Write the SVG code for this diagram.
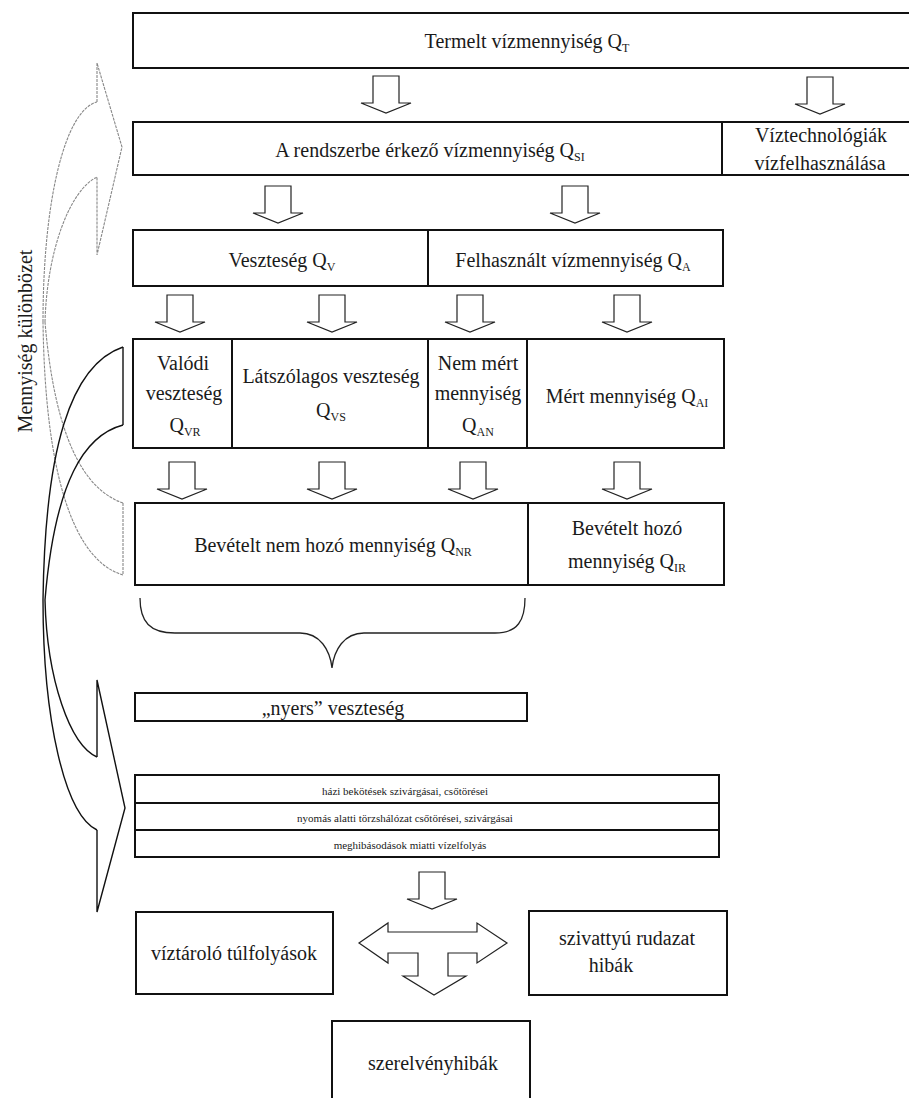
<svg xmlns="http://www.w3.org/2000/svg" xmlns:xlink="http://www.w3.org/1999/xlink" width="909" height="1098" viewBox="0 0 909 1098">
<style>
.box{fill:#fff;stroke:#111;stroke-width:2}
.div{stroke:#111;stroke-width:2;fill:none}
.t{font-family:"Liberation Serif",serif;font-size:20px;fill:#1a1a1a;text-anchor:middle}
.s{font-family:"Liberation Serif",serif;font-size:11px;fill:#1a1a1a;text-anchor:middle}
.sub{font-size:12px}
.da{fill:#fff;stroke:#222;stroke-width:1.2;stroke-linejoin:miter}
.ca{fill:none;stroke:#111;stroke-width:1.4}
.cb{fill:none;stroke:#888;stroke-width:1.1;stroke-dasharray:3 1}
</style>
<defs>
<path id="da" d="M-13,0 H13 V27 H25 L0,37 L-25,27 H-13 Z"/>
</defs>
<rect width="909" height="1098" fill="#fff"/>

<g id="connectors">
<use xlink:href="#da" href="#da" class="da" x="386" y="76"/>
<use xlink:href="#da" href="#da" class="da" x="820" y="77"/>
<use xlink:href="#da" href="#da" class="da" x="278" y="186"/>
<use xlink:href="#da" href="#da" class="da" x="575" y="186"/>
<use xlink:href="#da" href="#da" class="da" x="180" y="295"/>
<use xlink:href="#da" href="#da" class="da" x="332" y="295"/>
<use xlink:href="#da" href="#da" class="da" x="470" y="295"/>
<use xlink:href="#da" href="#da" class="da" x="627" y="295"/>
<use xlink:href="#da" href="#da" class="da" x="182" y="462"/>
<use xlink:href="#da" href="#da" class="da" x="332" y="462"/>
<use xlink:href="#da" href="#da" class="da" x="473" y="462"/>
<use xlink:href="#da" href="#da" class="da" x="627" y="462"/>
<use xlink:href="#da" href="#da" class="da" x="432" y="872"/>
<path id="brace" d="M140,598 C140,622 150,633 175,633 H300 C320,633 330,650 332,668 C334,650 344,633 364,633 H495 C518,633 525,620 525,598" fill="none" stroke="#222" stroke-width="1.3"/>
<path id="cross-arrow" class="da" d="M359,943 L388,923 V932 H477 V923 L507,943 L477,963 V953 H448 V976 H466 L434,995 L403,976 H418 V953 H388 V963 Z"/>
<g id="curved-arrow-up">
<path class="cb" d="M97,102 V63 L122,147 L97,255 V177"/>
<path class="cb" d="M123,503 V575"/>
<path class="cb" d="M123,575 C72,560 45,470 43,322"/>
<path class="cb" d="M123,503 C85,490 55,440 45,322"/>
<path class="cb" d="M45,322 C47,250 70,190 97,177"/>
<path class="cb" d="M43,322 C43,200 65,110 97,102"/>
</g>
<g id="curved-arrow-down">
<path class="ca" d="M123,347 V425"/>
<path class="ca" d="M123,347 C70,365 45,450 43,600"/>
<path class="ca" d="M123,425 C85,435 55,480 45,600"/>
<path class="ca" d="M45,600 C47,680 70,745 97,757"/>
<path class="ca" d="M43,600 C43,720 65,815 97,830"/>
<path class="ca" d="M97,757 V680 L125,808 L97,912 V830"/>
</g>
</g>

<text id="side-label" class="t" transform="translate(32,341) rotate(-90)" font-size="21">Mennyiség különbözet</text>

<g id="n-termelt">
<rect class="box" x="133" y="13" width="790" height="55"/>
<text class="t" x="527" y="48">Termelt vízmennyiség  Q<tspan class="sub" dy="4">T</tspan></text>
</g>
<g id="n-rendszer">
<rect class="box" x="133" y="122" width="790" height="53"/>
<line class="div" x1="722" y1="122" x2="722" y2="175"/>
<text class="t" x="430" y="157">A rendszerbe érkező vízmennyiség  Q<tspan class="sub" dy="4">SI</tspan></text>
</g>
<g id="n-viztech">
<text class="t" x="821" y="142">Víztechnológiák</text>
<text class="t" x="820" y="170">vízfelhasználása</text>
</g>
<g id="n-veszteseg">
<rect class="box" x="133" y="230" width="295" height="56"/>
<text class="t" x="282" y="267">Veszteség  Q<tspan class="sub" dy="4">V</tspan></text>
</g>
<g id="n-felhasznalt">
<rect class="box" x="428" y="230" width="295" height="56"/>
<text class="t" x="573" y="267">Felhasznált vízmennyiség  Q<tspan class="sub" dy="4">A</tspan></text>
</g>
<g id="n-valodi">
<rect class="box" x="133" y="339" width="99" height="109"/>
<text class="t" x="183" y="370">Valódi</text>
<text class="t" x="184" y="400">veszteség</text>
<text class="t" x="185" y="432">Q<tspan class="sub" dy="4">VR</tspan></text>
</g>
<g id="n-latszolagos">
<rect class="box" x="232" y="339" width="196" height="109"/>
<text class="t" x="331" y="383">Látszólagos veszteség</text>
<text class="t" x="331" y="417">Q<tspan class="sub" dy="4">VS</tspan></text>
</g>
<g id="n-nemmert">
<rect class="box" x="428" y="339" width="99" height="109"/>
<text class="t" x="478" y="370">Nem mért</text>
<text class="t" x="478" y="400">mennyiség</text>
<text class="t" x="478" y="432">Q<tspan class="sub" dy="4">AN</tspan></text>
</g>
<g id="n-mert">
<rect class="box" x="527" y="339" width="197" height="109"/>
<text class="t" x="627" y="403">Mért mennyiség  Q<tspan class="sub" dy="4">AI</tspan></text>
</g>
<g id="n-nemhozo">
<rect class="box" x="135" y="503" width="393" height="82"/>
<text class="t" x="333" y="552">Bevételt nem hozó mennyiség  Q<tspan class="sub" dy="4">NR</tspan></text>
</g>
<g id="n-hozo">
<rect class="box" x="528" y="503" width="196" height="82"/>
<text class="t" x="627" y="535">Bevételt hozó</text>
<text class="t" x="627" y="568">mennyiség  Q<tspan class="sub" dy="4">IR</tspan></text>
</g>
<g id="n-nyers">
<rect class="box" x="135" y="693" width="392" height="28"/>
<text class="t" x="333" y="715">„nyers” veszteség</text>
</g>
<g id="n-rows">
<rect class="box" x="135" y="775" width="584" height="28"/>
<text class="s" x="405" y="795">házi bekötések szivárgásai, csőtörései</text>
<rect class="box" x="135" y="803" width="584" height="27"/>
<text class="s" x="405" y="822">nyomás alatti törzshálózat csőtörései, szivárgásai</text>
<rect class="box" x="135" y="830" width="584" height="27"/>
<text class="s" x="410" y="849">meghibásodások miatti vízelfolyás</text>
</g>
<g id="n-viztarolo">
<rect class="box" x="136" y="912" width="197" height="82"/>
<text class="t" x="234" y="960">víztároló túlfolyások</text>
</g>
<g id="n-szivattyu">
<rect class="box" x="529" y="911" width="198" height="84"/>
<text class="t" x="627" y="945">szivattyú rudazat</text>
<text class="t" x="611" y="972">hibák</text>
</g>
<g id="n-szerelveny">
<rect class="box" x="332" y="1021" width="198" height="90"/>
<text class="t" x="433" y="1070">szerelvényhibák</text>
</g>
</svg>
